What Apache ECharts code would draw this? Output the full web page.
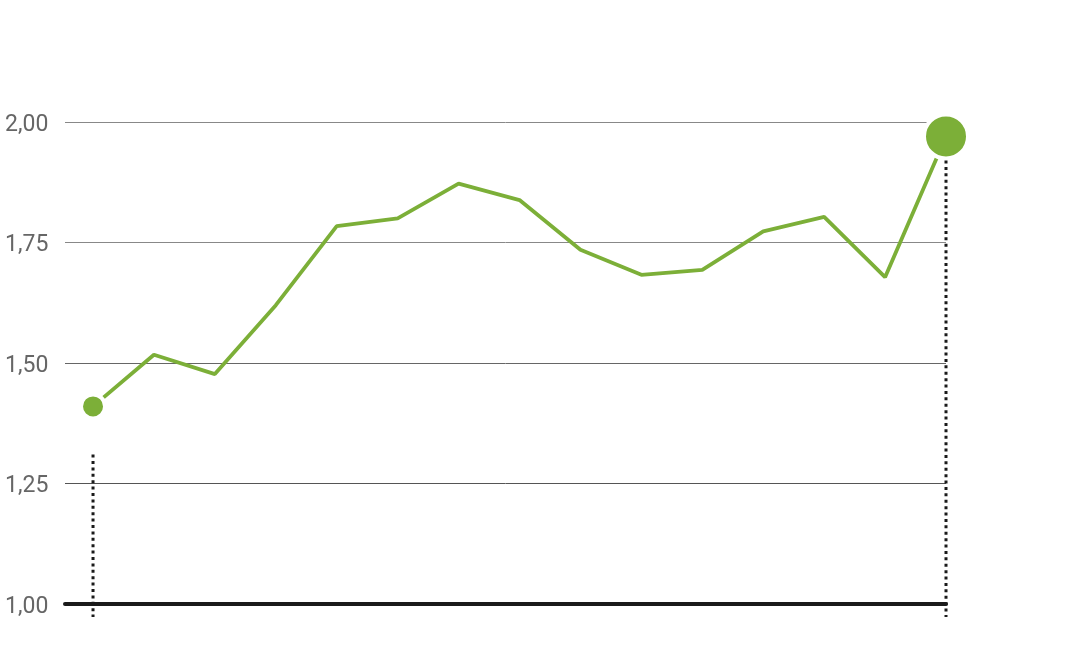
<!DOCTYPE html>
<html>
<head>
<meta charset="utf-8">
<script src="https://cdn.jsdelivr.net/npm/echarts@6/dist/echarts.min.js"></script>
<style>html,body{margin:0;padding:0;background:#fff;}#c{width:1092px;height:664px;}</style>
</head>
<body>
<div id="c"></div>
<script>
const categories = [0,1,2,3,4,5,6,7,8,9,10,11,12,13,14];
const values = [1.41,1.517,1.477,1.62,1.784,1.80,1.872,1.838,1.735,1.683,1.693,1.773,1.803,1.678,1.97];
const yTicks = [1.00,1.25,1.50,1.75,2.00];
const dropLines = [[0, 1.31, 0.973], [14, 1.92, 0.973]];

const green = '#7caf38';
const data = values.map((v, i) => {
  const item = { value: [categories[i], v], symbol: 'none' };
  if (i === 0) { item.symbol = 'circle'; item.symbolSize = 24; }
  if (i === values.length - 1) { item.symbol = 'circle'; item.symbolSize = 44; }
  return item;
});
const last = categories.length - 1;

const chart = echarts.init(document.getElementById('c'), null, {renderer: 'canvas'});
chart.setOption({
  animation: false,
  grid: { left: 65, right: 146, top: 122, bottom: 60 },
  xAxis: {
    type: 'value', min: -0.46, max: last,
    axisLine: { show: true, onZero: false, lineStyle: { color: '#1a1a1a', width: 4 } },
    axisTick: { show: false }, axisLabel: { show: false }, splitLine: { show: false }
  },
  yAxis: {
    type: 'value', min: yTicks[0], max: yTicks[yTicks.length - 1], interval: 0.25,
    axisLine: { show: false }, axisTick: { show: false },
    axisLabel: {
      align: 'left', margin: 60, color: '#666',
      formatter: v => '{a|' + v.toFixed(2).replace('.', ',') + '}',
      rich: { a: { fontFamily: 'Roboto', fontWeight: 'normal', fontSize: 23, color: '#666', padding: [6, 0, 0, 0] } }
    },
    splitLine: { lineStyle: { color: ['#1a1a1a', '#555', '#666', '#888', '#888'], width: 1 } }
  },
  series: [{
    type: 'line',
    data: data,
    lineStyle: { color: green, width: 3.8 },
    itemStyle: { color: green, borderColor: '#fff', borderWidth: 4 },
    z: 3
  }, {
    type: 'custom',
    data: dropLines,
    clip: false,
    z: 4,
    silent: true,
    renderItem: function (params, api) {
      const p1 = api.coord([api.value(0), api.value(1)]);
      const p2 = api.coord([api.value(0), api.value(2)]);
      return {
        type: 'line',
        shape: { x1: p1[0], y1: p1[1], x2: p2[0], y2: p2[1] },
        style: { stroke: '#1a1a1a', lineWidth: 3, lineDash: [3, 3.4] }
      };
    }
  }]
});
</script>
</body>
</html>
